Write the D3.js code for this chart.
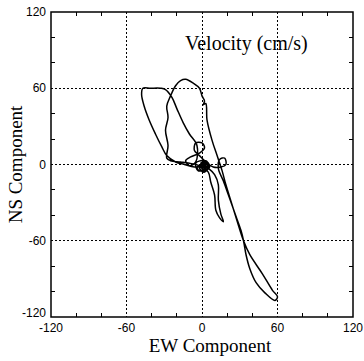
<!DOCTYPE html>
<meta charset="utf-8">
<style>

body {
  margin: 0;
  background: #fff;
}

.tick-label {
  font: 12px "Liberation Sans", Arial, sans-serif;
  fill: #000;
}

.grid line {
  stroke: #000;
  stroke-width: 1;
  stroke-dasharray: 2,2;
  shape-rendering: crispEdges;
}

.frame {
  fill: none;
  stroke: #000;
  stroke-width: 1.5;
}

.minor line {
  stroke: #000;
  stroke-width: 1;
  shape-rendering: crispEdges;
}

.trace {
  fill: none;
  stroke: #000;
  stroke-width: 1.5;
  stroke-linejoin: round;
}

.serif {
  font-family: "Liberation Serif", "Times New Roman", serif;
  fill: #000;
}

</style>
<body>
<script src="https://d3js.org/d3.v7.min.js"></script>
<script>

// tick values
var majorTicks = [-120, -60, 0, 60, 120];
var gridTicks = [-60, 0, 60];
var minorTicks = [-100, -80, -40, -20, 20, 40, 80, 100];

// particle velocity trace (cm/s)
var ew = [0, 2, -3, -5, 1, 5, 2, -2,
  3, 5, 1, -2, 4, 6, 2, -1, 3, 5, 1, -2,
  -10, -17, -25, -28,
  -27, -29, -27, -28, -25,
  -21, -17, -13, -7, -2, 0, 2, 1, 3,
  4, 8, 12, 16, 19, 24, 29, 33, 38, 48, 56, 60,
  58, 50, 43, 38, 35, 33, 31, 26, 21, 17, 13,
  14, 18, 19, 15, 9,
  2, -2, -6, -5, 0, 2, -2, -9, -13, -10, -5,
  -4, -10, -15, -20, -24, -29, -33, -41, -47, -48, -46, -42, -37, -32, -28,
  -21, -14, -6, 0,
  5, 7, 10, 11, 14, 17, 15, 13, 13, 10, 4, -1,
  2, 3, -2, -4, 1, 4, 6, 3, 0, 2];
var ns = [-1, -3, -5, 1, 3, -1, -6, -3,
  1, -3, -6, -2, 2, -2, -5, 0, 3, 0, -4, -1,
  1, 2, 3, 5,
  15, 27, 37, 46, 54,
  62, 66, 67, 64, 60, 54, 50, 47, 48,
  35, 19, 7, -5, -16, -32, -48, -60, -71, -86, -99, -104,
  -107, -101, -93, -82, -71, -60, -52, -38, -24, -13, -3,
  4, 5, 0, -2, -2,
  3, 7, 11, 17, 17, 13, 9, 6, 3, -1, 2,
  15, 24, 33, 44, 53, 59, 60, 60, 60, 55, 46, 35, 24, 14, 7,
  2, 0, -2, -2,
  -6, -14, -24, -36, -42, -45, -39, -28, -16, -8, -2, 1,
  2, -3, -5, -2, 0, -4, -1, 2, -3, -1];

var margin = {top: 12, right: 11, bottom: 44, left: 51},
    width = 364 - margin.left - margin.right,
    height = 361 - margin.top - margin.bottom;

var x = d3.scaleLinear().domain([-120, 120]).range([0, width]);
var y = d3.scaleLinear().domain([-120, 120]).range([height, 0]);

var svg = d3.select("body").append("svg")
    .attr("width", 364)
    .attr("height", 361)
  .append("g")
    .attr("transform", "translate(" + margin.left + "," + margin.top + ")");

// dotted grid
var grid = svg.append("g").attr("class", "grid");
grid.selectAll(".gx")
    .data(gridTicks)
  .enter().append("line")
    .attr("x1", d => x(d)).attr("x2", d => x(d))
    .attr("y1", 0).attr("y2", height);
grid.selectAll(".gy")
    .data(gridTicks)
  .enter().append("line")
    .attr("y1", d => y(d)).attr("y2", d => y(d))
    .attr("x1", 0).attr("x2", width);

// inward minor ticks on all four sides
var tl = 4;
var minor = svg.append("g").attr("class", "minor");
minorTicks.forEach(function(v) {
  minor.append("line").attr("x1", x(v)).attr("x2", x(v)).attr("y1", height).attr("y2", height - tl);
  minor.append("line").attr("x1", x(v)).attr("x2", x(v)).attr("y1", 0).attr("y2", tl);
  minor.append("line").attr("y1", y(v)).attr("y2", y(v)).attr("x1", 0).attr("x2", tl);
  minor.append("line").attr("y1", y(v)).attr("y2", y(v)).attr("x1", width).attr("x2", width - tl);
});

svg.append("rect")
    .attr("class", "frame")
    .attr("width", width)
    .attr("height", height);

// tick labels
svg.selectAll(".xl")
    .data(majorTicks)
  .enter().append("text")
    .attr("class", "tick-label")
    .attr("x", d => x(d))
    .attr("y", height + 14.5)
    .attr("text-anchor", "middle")
    .text(d => d);

svg.selectAll(".yl")
    .data(majorTicks)
  .enter().append("text")
    .attr("class", "tick-label")
    .attr("x", -5)
    .attr("y", d => y(d) - (d === -120 ? 4.5 : 0))
    .attr("dy", "0.35em")
    .attr("text-anchor", "end")
    .text(d => d);

// the trace
var pts = ew.map((d, i) => [d, ns[i]]);
var line = d3.line()
    .x(d => x(d[0]))
    .y(d => y(d[1]))
    .curve(d3.curveCatmullRom.alpha(0.5));

svg.append("path")
    .datum(pts)
    .attr("class", "trace")
    .attr("d", line);

// titles
svg.append("text")
    .attr("class", "serif")
    .attr("x", 134)
    .attr("y", 38)
    .style("font-size", "20px")
    .text("Velocity (cm/s)");

svg.append("text")
    .attr("class", "serif")
    .attr("x", 159)
    .attr("y", height + 35)
    .attr("text-anchor", "middle")
    .style("font-size", "19px")
    .text("EW Component");

svg.append("text")
    .attr("class", "serif")
    .attr("transform", "translate(-29," + y(0) + ") rotate(-90)")
    .attr("text-anchor", "middle")
    .style("font-size", "19px")
    .text("NS Component");

</script>
</body>
